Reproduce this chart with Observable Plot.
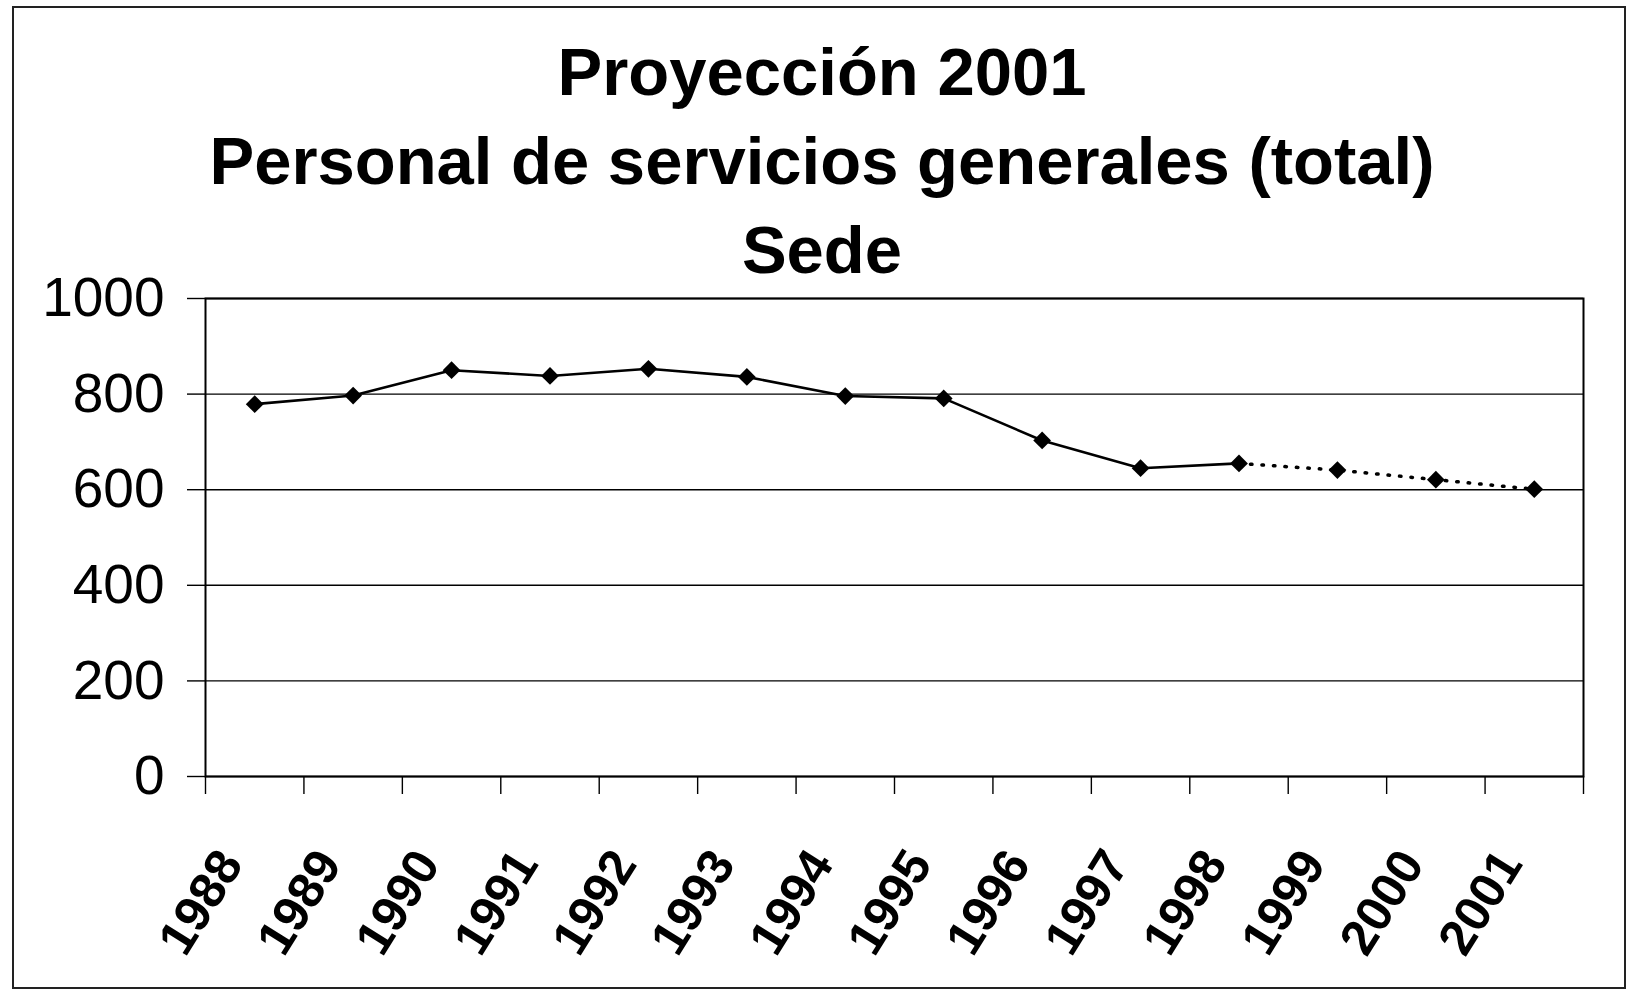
<!DOCTYPE html>
<html><head><meta charset="utf-8">
<script src="https://cdn.jsdelivr.net/npm/d3@7"></script>
<script src="https://cdn.jsdelivr.net/npm/@observablehq/plot@0.6"></script>
<style>
body{margin:0;background:#fff;width:1630px;height:993px;position:relative;overflow:hidden;font-family:"Liberation Sans",Arial,sans-serif;}
#border{position:absolute;left:12px;top:6px;width:1614px;height:983px;border:2px solid #222;box-sizing:border-box;}
#title{position:absolute;left:0;top:27px;width:1644px;text-align:center;font-weight:bold;font-size:67px;line-height:89px;color:#000;}
#chart{position:absolute;left:0;top:280px;}
</style></head><body>
<div id="border"></div>
<div id="title"><div>Proyección 2001</div><div>Personal de servicios generales (total)</div><div>Sede</div></div>
<div id="chart"></div>
<script>
const years = [1988, 1989, 1990, 1991, 1992, 1993, 1994, 1995, 1996, 1997, 1998, 1999, 2000, 2001];
const values = [779, 797, 850, 838, 853, 836, 796, 791, 703, 645, 655, 641, 621, 601];
const lastActualYear = 1998;
const yTicks = [0, 200, 400, 600, 800, 1000];
const tickLabels = years.map(String);

const data = years.map((year, i) => ({year, value: values[i]}));
const actual = data.filter(d => d.year <= lastActualYear);
const projected = data.filter(d => d.year >= lastActualYear);
const boundaries = [years[0] - 0.5, ...years.map(y => y + 0.5)];

const chart = Plot.plot({
  width: 1630, height: 713,
  marginLeft: 205, marginRight: 47, marginTop: 18, marginBottom: 217,
  style: {background: "transparent", overflow: "visible", fontFamily: "Liberation Sans, Arial, sans-serif", color: "#000"},
  x: {type: "linear", domain: [years[0] - 0.5, years[years.length - 1] + 0.5]},
  y: {domain: [0, 1000]},
  marks: [
    Plot.gridY(yTicks, {stroke: "#000", strokeOpacity: 1, strokeWidth: 1.4}),
    Plot.frame({stroke: "#000", strokeWidth: 2}),
    Plot.axisY(yTicks, {tickSize: 18, tickPadding: 23, fontSize: 55, stroke: "#000", strokeWidth: 1.4, label: null, tickFormat: d => String(d)}),
    Plot.axisX(boundaries, {tickSize: 18, tickFormat: () => "", label: null, stroke: "#000", strokeWidth: 1.4}),
    Plot.axisX(years, {tickSize: 0, tickRotate: -58, tickPadding: 79, fontSize: 50, fontWeight: "bold", dx: -24,
      tickFormat: d => tickLabels[years.indexOf(d)], label: null}),
    Plot.line(actual, {x: "year", y: "value", stroke: "#000", strokeWidth: 2.6}),
    Plot.line(projected, {x: "year", y: "value", stroke: "#000", strokeWidth: 3.5, strokeDasharray: "1.5 10", strokeLinecap: "round"}),
    Plot.dot(data, {x: "year", y: "value", symbol: "diamond2", r: 8, fill: "#000", stroke: "none"})
  ]
});
document.getElementById("chart").appendChild(chart);
</script>
</body></html>
